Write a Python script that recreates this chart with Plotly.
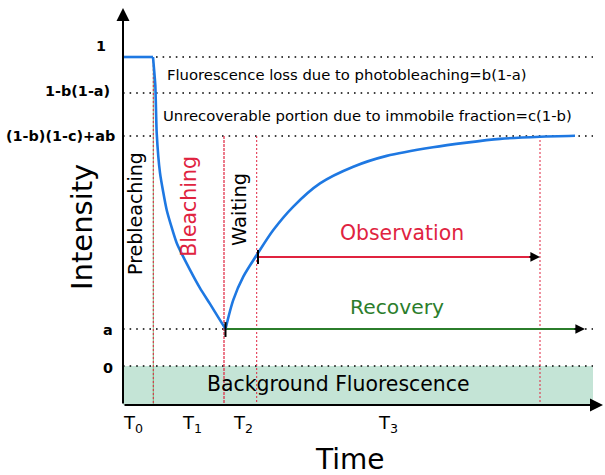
import plotly.graph_objects as go

# ---- data (time in arbitrary units, intensity normalised to pre-bleach = 1) ----
level_names = ["1", "1-b(1-a)", "(1-b)(1-c)+ab", "a", "0"]
level_values = [1.0, 0.8835, 0.7443, 0.1197, 0.0]

# phase boundaries: end of prebleach, end of bleaching, end of waiting, end of observation
phase_times = [3.03, 10.1, 13.37, 41.7]

prebleach_t = [0.0, 3.0]
prebleach_i = [1.0, 1.0]

bleach_t = [3.0, 3.23, 3.37, 3.7, 4.37, 5.37, 6.7, 7.7, 8.7, 9.5, 10.25]
bleach_i = [1.0, 0.909, 0.754, 0.625, 0.505, 0.398, 0.311, 0.252, 0.201, 0.159, 0.12]

recovery_t = [10.25, 11.03, 12.03, 13.37, 15.03, 17.03, 19.7, 23.03, 26.37,
              31.0, 34.37, 37.7, 41.7, 45.2]
recovery_i = [0.12, 0.214, 0.289, 0.359, 0.44, 0.516, 0.591, 0.645, 0.68,
              0.708, 0.723, 0.735, 0.742, 0.745]

time_ticks = ["T<sub>0</sub>", "T<sub>1</sub>", "T<sub>2</sub>", "T<sub>3</sub>"]
time_tick_pos = [1.0, 6.9, 12.0, 26.5]

observation_level = 0.353
t_axis_end = 48.0
t_dotted_end = 47.0
axis_floor = -0.1262
axis_top = 1.1586

# ---- styles ----
FONT = "DejaVu Sans"
BLUE = "#1e78e2"
RED = "#e0233f"
GREEN = "#2b7d2b"
BG = "#c4e4d6"

fig = go.Figure()

# background fluorescence band
fig.add_shape(type="rect", xref="x", yref="y", x0=0, x1=t_dotted_end,
              y0=axis_floor, y1=level_values[4], fillcolor=BG, line_width=0, layer="below")

# horizontal dotted reference levels
for v in level_values:
    fig.add_trace(go.Scatter(x=[0, t_dotted_end], y=[v, v], mode="lines",
                             line=dict(color="black", width=1.6, dash="1.6px,5px"),
                             hoverinfo="skip", showlegend=False))

# vertical phase boundaries
fig.add_trace(go.Scatter(x=[phase_times[0]] * 2, y=[level_values[0], axis_floor], mode="lines",
                         line=dict(color="#7fb87f", width=1), showlegend=False))
fig.add_trace(go.Scatter(x=[phase_times[0]] * 2, y=[level_values[0], axis_floor], mode="lines",
                         line=dict(color=RED, width=1, dash="2px,2px"), showlegend=False))
fig.add_trace(go.Scatter(x=[phase_times[1]] * 2, y=[level_values[2], axis_floor], mode="lines",
                         line=dict(color=RED, width=1.2, dash="3px,1px"), showlegend=False))
for t in phase_times[2:]:
    fig.add_trace(go.Scatter(x=[t, t], y=[level_values[2], axis_floor], mode="lines",
                             line=dict(color=RED, width=1, dash="2px,2px"), showlegend=False))

# recovery (green) and observation (red) spans
fig.add_trace(go.Scatter(x=[recovery_t[0], t_axis_end - 2.2], y=[level_values[3]] * 2, mode="lines",
                         line=dict(color=GREEN, width=2), showlegend=False))
fig.add_trace(go.Scatter(x=[phase_times[2] + 0.13, phase_times[3] - 0.3], y=[observation_level] * 2,
                         mode="lines", line=dict(color=RED, width=2), showlegend=False))

# intensity curve: flat prebleach, bleaching decay, then recovery
fig.add_trace(go.Scatter(x=prebleach_t, y=prebleach_i, mode="lines",
                         line=dict(color=BLUE, width=2.6), showlegend=False))
fig.add_trace(go.Scatter(x=bleach_t, y=bleach_i, mode="lines",
                         line=dict(color=BLUE, width=2.6, shape="spline", smoothing=0.5),
                         showlegend=False))
fig.add_trace(go.Scatter(x=recovery_t, y=recovery_i, mode="lines",
                         line=dict(color=BLUE, width=2.6, shape="spline", smoothing=0.8),
                         showlegend=False))

# black start ticks
fig.add_trace(go.Scatter(x=[recovery_t[0]] * 2, y=[0.142, 0.094], mode="lines",
                         line=dict(color="black", width=2), showlegend=False))
fig.add_trace(go.Scatter(x=[phase_times[2] + 0.13] * 2, y=[0.375, 0.330], mode="lines",
                         line=dict(color="black", width=2), showlegend=False))

ann = []
# axes with arrowheads
ann.append(dict(x=0, y=axis_top, ax=0, ay=axis_floor, xref="x", yref="y", axref="x", ayref="y",
                showarrow=True, arrowhead=2, arrowsize=1.3, arrowwidth=2, arrowcolor="black", text=""))
ann.append(dict(x=t_axis_end, y=axis_floor, ax=0, ay=axis_floor, xref="x", yref="y", axref="x",
                ayref="y", showarrow=True, arrowhead=2, arrowsize=1.3, arrowwidth=2,
                arrowcolor="black", text=""))
# arrowheads on the spans
ann.append(dict(x=t_axis_end - 1.8, y=level_values[3], ax=-12, ay=0, xref="x", yref="y",
                showarrow=True, arrowhead=2, arrowsize=1.2, arrowwidth=1.6, arrowcolor="black", text=""))
ann.append(dict(x=phase_times[3], y=observation_level, ax=-12, ay=0, xref="x", yref="y",
                showarrow=True, arrowhead=2, arrowsize=1.2, arrowwidth=1.6, arrowcolor="black", text=""))

# level labels
label_pos = [(-1.5, 1.036), (-1.1, 0.890), (-0.6, 0.744), (-0.8, 0.117), (-0.8, -0.006)]
for name, (lx, ly) in zip(level_names, label_pos):
    ann.append(dict(x=lx, y=ly, xref="x", yref="y", text=f"<b>{name}</b>", showarrow=False,
                    xanchor="right", yanchor="middle", font=dict(family=FONT, size=14.4, color="black")))

# annotations describing the losses
ann.append(dict(x=22.4, y=0.942, xref="x", yref="y", showarrow=False, xanchor="center",
                text="Fluorescence loss due to photobleaching=b(1-a)",
                font=dict(family=FONT, size=14.8, color="black")))
ann.append(dict(x=24.4, y=0.812, xref="x", yref="y", showarrow=False, xanchor="center",
                text="Unrecoverable portion due to immobile fraction=c(1-b)",
                font=dict(family=FONT, size=14.8, color="black")))

# phase names
ann.append(dict(x=1.2, y=0.492, xref="x", yref="y", showarrow=False, text="Prebleaching",
                textangle=-90, font=dict(family=FONT, size=19, color="black")))
ann.append(dict(x=6.6, y=0.515, xref="x", yref="y", showarrow=False, text="Bleaching",
                textangle=-90, font=dict(family=FONT, size=20.5, color=RED)))
ann.append(dict(x=11.7, y=0.505, xref="x", yref="y", showarrow=False, text="Waiting",
                textangle=-90, font=dict(family=FONT, size=19.5, color="black")))
ann.append(dict(x=27.9, y=0.430, xref="x", yref="y", showarrow=False, text="Observation",
                font=dict(family=FONT, size=20.4, color=RED)))
ann.append(dict(x=27.35, y=0.191, xref="x", yref="y", showarrow=False, text="Recovery",
                font=dict(family=FONT, size=20.3, color=GREEN)))
ann.append(dict(x=21.45, y=-0.058, xref="x", yref="y", showarrow=False,
                text="Background Fluorescence", font=dict(family=FONT, size=20.4, color="black")))

# axis titles
ann.append(dict(x=-4.1, y=0.45, xref="x", yref="y", showarrow=False, text="Intensity",
                textangle=-90, font=dict(family=FONT, size=29, color="black")))
ann.append(dict(x=22.7, y=-0.304, xref="x", yref="y", showarrow=False, text="Time",
                font=dict(family=FONT, size=28, color="black")))

# time marks
for lab, tp in zip(time_ticks, time_tick_pos):
    ann.append(dict(x=tp, y=-0.188, xref="x", yref="y", showarrow=False, text=lab,
                    font=dict(family=FONT, size=18, color="black")))

fig.update_layout(
    width=605, height=475,
    margin=dict(l=0, r=0, t=0, b=0),
    paper_bgcolor="white", plot_bgcolor="white",
    xaxis=dict(range=[-12.3, 48.2], visible=False, fixedrange=True),
    yaxis=dict(range=[-0.3528, 1.1845], visible=False, fixedrange=True),
    annotations=ann,
    showlegend=False,
)

fig.write_html("out.html")
